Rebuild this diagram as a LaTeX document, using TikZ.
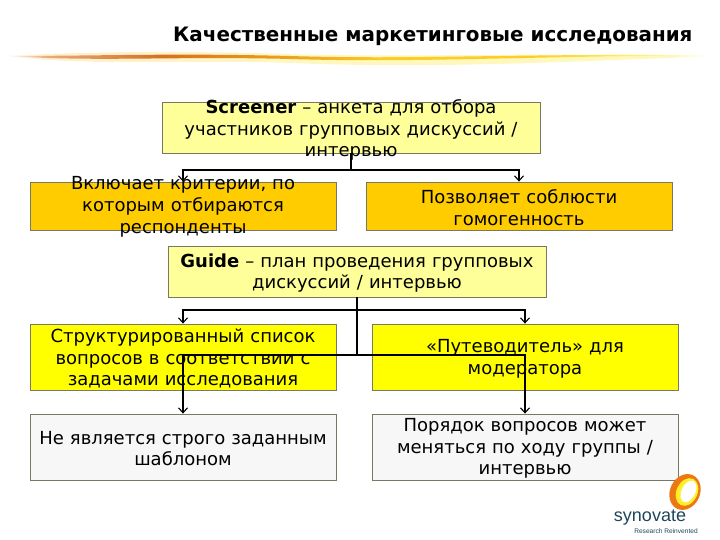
\documentclass[tikz,border=0pt]{standalone}
\usepackage{fontspec}
\setmainfont{DejaVu Sans}
\newfontfamily\logofont{Liberation Sans}
\usetikzlibrary{arrows.meta}
\definecolor{amberc}{RGB}{255,204,0}
\definecolor{tanc}{RGB}{255,255,153}
\definecolor{yelc}{RGB}{255,255,0}
\definecolor{palec}{RGB}{247,247,247}
\definecolor{edgec}{RGB}{120,120,100}
\definecolor{sa}{RGB}{214,112,34}
\definecolor{sb}{RGB}{232,150,30}
\definecolor{sc}{RGB}{250,205,40}
\definecolor{sd}{RGB}{255,240,120}
\definecolor{ga}{RGB}{255,240,205}
\definecolor{gb}{RGB}{255,248,190}
\definecolor{ringa}{RGB}{236,120,20}
\definecolor{ringb}{RGB}{255,238,40}
\definecolor{logoc}{RGB}{30,70,90}
\pgfdeclarehorizontalshading{swglow}{100bp}{color(0bp)=(white); color(25bp)=(white); color(28bp)=(ga); color(50bp)=(gb); color(72bp)=(gb); color(75bp)=(white); color(100bp)=(white)}
\pgfdeclarehorizontalshading{swcore}{100bp}{color(0bp)=(white); color(25bp)=(white); color(28bp)=(sa!60!white); color(36bp)=(sa); color(43bp)=(sb); color(52bp)=(sc); color(62bp)=(sc); color(70bp)=(sd); color(75bp)=(white); color(100bp)=(white)}
\tikzset{
  box/.style={draw=edgec,line width=0.8pt,minimum width=306pt,text width=302pt,align=center,inner sep=0pt,text=black,font=\fontsize{18}{21.8}\selectfont},
  tan/.style={box,fill=tanc,minimum width=378pt,text width=372pt,minimum height=51pt},
  amber/.style={box,fill=amberc,minimum height=48pt},
  yel/.style={box,fill=yelc,minimum height=66pt},
  pale/.style={box,fill=palec,minimum height=66pt},
  conn/.style={draw=black,line width=1.3pt,-{Straight Barb[length=5pt,width=9pt,line width=1.1pt]}},
}
\newcommand{\lowertext}[1]{\raisebox{0pt}{}\vspace*{-1.5pt}#1}
\begin{document}
\begin{tikzpicture}[x=1pt,y=1pt]
\useasboundingbox (0,0) rectangle (720,540);
% swoosh
\shade[shading=swglow] (4,484) .. controls (100,489) and (180,489) .. (290,486) .. controls (420,482) and (520,488) .. (716,484) .. controls (520,476) and (420,472) .. (290,477) .. controls (180,481) and (100,473) .. (4,484) -- cycle;
\shade[shading=swcore] (6,484) .. controls (100,484) and (170,487) .. (290,484) .. controls (420,480) and (520,487) .. (714,484.5) .. controls (520,484) and (420,477) .. (290,481) .. controls (170,484) and (100,478) .. (6,484) -- cycle;
% title
\node[anchor=base west,inner sep=0pt,text=black,font=\fontsize{19.9}{24}\selectfont\bfseries] (title) at (173,498) {Качественные маркетинговые исследования};
% boxes
\node[tan] (scr) at (351,412.5) {};
\node[tan] (gui) at (357,268.5) {};
\node[amber] (a1) at (183,334) {};
\node[amber] (a2) at (519,334) {};
\node[yel] (y1) at (183,183) {};
\node[yel] (y2) at (525,183) {};
\node[pale] (p1) at (183,93) {};
\node[pale] (p2) at (525,93) {};
% connectors
\coordinate (c1) at (351,370);
\coordinate (c2) at (357,230);
\coordinate (c3) at (357,185);
\draw[conn] (scr.south) -- (c1) -| (a1.north);
\draw[conn] (scr.south) -- (c1) -| (a2.north);
\draw[conn] (gui.south) -- (c2) -| (y1.north);
\draw[conn] (gui.south) -- (c2) -| (y2.north);
\draw[conn] (gui.south) -- (c3) -| (p1.north);
\draw[conn] (gui.south) -- (c3) -| (p2.north);
% box texts, set slightly below the box centres and above the connectors
\tikzset{label text/.style={box,draw=none,fill=none,minimum height=0pt}}
\node[label text,text width=372pt] (tscr) at (351,410) {\textbf{Screener} – анкета для отбора\\участников групповых дискуссий /\\интервью};
\node[label text,text width=372pt] (tgui) at (357,267) {\textbf{Guide} – план проведения групповых\\дискуссий / интервью};
\node[label text] (ta1) at (183,333) {Включает критерии, по\\которым отбираются\\респонденты};
\node[label text] (ta2) at (519,332.5) {Позволяет соблюсти\\гомогенность};
\node[label text] (ty1) at (183,181.5) {Структурированный список\\вопросов в соответствии с\\задачами исследования};
\node[label text] (ty2) at (525,181.5) {«Путеводитель» для\\модератора};
\node[label text] (tp1) at (183,91.5) {Не является строго заданным\\шаблоном};
\node[label text] (tp2) at (525,91.5) {Порядок вопросов может\\меняться по ходу группы /\\интервью};
% logo
\fill[ringa,rotate around={-25:(685,48)}] (685,48) ellipse (15 and 18.5);
\fill[ringb,rotate around={-25:(687,48)}] (687,48) ellipse (10.5 and 14.5);
\fill[white,rotate around={-25:(688.5,48.5)}] (688.5,48.5) ellipse (7 and 11.5);
\node[anchor=base,inner sep=0pt,text=logoc,font=\logofont\fontsize{18}{20}\selectfont] (logo) at (650,18) {synovate};
\node[anchor=base,inner sep=0pt,text=logoc,font=\logofont\fontsize{6.6}{8}\selectfont] (tag) at (666,6) {Research Reinvented};
\end{tikzpicture}
\end{document}
